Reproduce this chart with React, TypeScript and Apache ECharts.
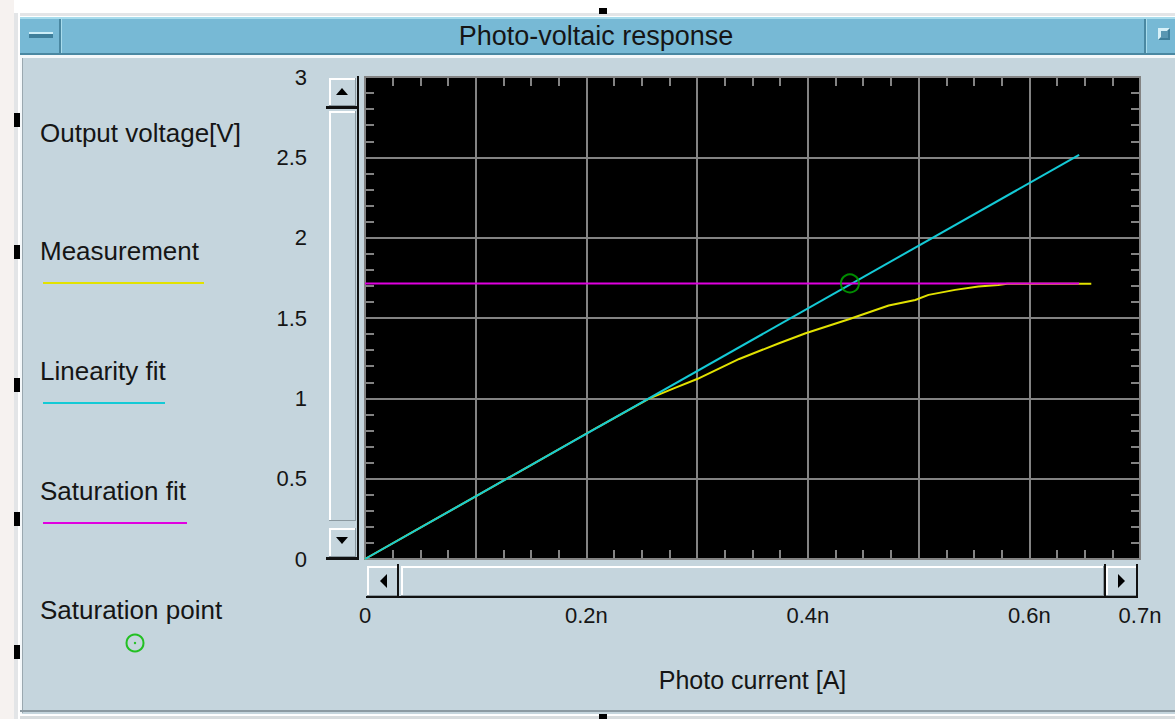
import React, { useEffect, useRef } from 'react';
import * as echarts from 'echarts';

// ---- data (photo current in nA, output voltage in V) ----
const measCurrent = [0, 0.05, 0.1, 0.15, 0.21, 0.257, 0.28, 0.3, 0.338, 0.374, 0.398, 0.437, 0.473, 0.497, 0.509, 0.533, 0.554, 0.572, 0.58, 0.656];
const measVoltage = [0, 0.195, 0.39, 0.585, 0.82, 1.0, 1.065, 1.12, 1.245, 1.343, 1.405, 1.492, 1.578, 1.612, 1.644, 1.675, 1.696, 1.706, 1.713, 1.713];
const linCurrent = [0, 0.645];
const linVoltage = [0, 2.515];
const satCurrent = [0, 0.645];
const satVoltage = [1.715, 1.715];
const satPointCurrent = [0.438];
const satPointVoltage = [1.715];
const xLabelValues = [0, 0.2, 0.4, 0.6, 0.7];
const xLabelTexts = ['0', '0.2n', '0.4n', '0.6n', '0.7n'];
const legendNames = ['Measurement', 'Linearity fit', 'Saturation fit', 'Saturation point'];

const TITLE = 'Photo-voltaic response';
const Y_NAME = 'Output voltage[V]';
const X_NAME = 'Photo current [A]';

const C_MEAS = '#E2E200';
const C_LIN = '#14CAD6';
const C_SAT = '#E000E0';
const C_PT = '#00B000';
const PANEL = '#C5D5DD';
const BAR = '#77B9D5';
const BAR_DARK = '#4A88A2';
const BAR_LIGHT = '#A8DCEC';
const GRIDC = '#838383';
const TXT = '#151515';
const FONT = '"Liberation Sans", Arial, sans-serif';

const zip = (a: number[], b: number[]) => a.map((v, i) => [v, b[i]]);

const R = (x: number, y: number, w: number, h: number, fill: string) => ({
  type: 'rect', silent: true, shape: { x, y, width: w, height: h }, style: { fill },
});
const T = (x: number, y: number, text: string, size: number, align = 'left') => ({
  type: 'text', silent: true, x, y,
  style: { text, fill: TXT, font: `${size}px ${FONT}`, textAlign: align, textVerticalAlign: 'middle', align, verticalAlign: 'middle' },
});
const bevel = (x: number, y: number, w: number, h: number) => [
  R(x, y, w, h, PANEL),
  R(x, y, w, 2, '#FFFFFF'),
  R(x, y, 2, h, '#FFFFFF'),
  R(x, y + h - 1, w, 1, '#8A989F'),
  R(x + w - 1, y, 1, h, '#8A989F'),
];
const tri = (pts: number[][]) => ({ type: 'polygon', silent: true, shape: { points: pts }, style: { fill: '#000' } });

export default function App() {
  const ref = useRef<HTMLDivElement>(null);
  useEffect(() => {
    if (!ref.current) return;
    const chart = echarts.init(ref.current, null, { renderer: 'svg' });

    const elements: any[] = [];
    elements.push(R(0, 0, 1175, 13, '#FFFFFF'));
    elements.push(R(0, 13, 1175, 3, '#E3E5E7'));
    elements.push(R(0, 16, 1175, 1, '#FFFFFF'));
    elements.push(R(0, 0, 14, 719, '#F6F2F0'));
    elements.push(R(14, 13, 4, 706, '#E3E5E7'));
    elements.push(R(18, 13, 2, 706, '#FFFFFF'));
    elements.push(R(20, 17, 1155, 38, BAR));
    elements.push(R(20, 17, 1155, 2, BAR_LIGHT));
    elements.push(R(20, 53, 1155, 2, BAR_DARK));
    elements.push(R(59, 19, 2, 34, BAR_DARK));
    elements.push(R(61, 19, 1, 34, BAR_LIGHT));
    elements.push(R(1144, 19, 2, 34, BAR_DARK));
    elements.push(R(1146, 19, 1, 34, BAR_LIGHT));
    elements.push(R(29, 32, 24, 6, '#3F7F9B'));
    elements.push(R(29, 32, 24, 2, '#CDEEF8'));
    elements.push(R(1158, 28, 12, 12, '#3F7F9B'));
    elements.push({ type: 'polygon', silent: true, shape: { points: [[1158, 28], [1170, 28], [1158, 40]] }, style: { fill: '#D6F0F8' } });
    elements.push(R(1161, 31, 7, 7, '#5A97B2'));
    elements.push(T(596, 36, TITLE, 27, 'center'));
    elements.push(R(20, 55, 1155, 3, '#F4F8FA'));
    elements.push(R(20, 55, 2, 661, '#F4F8FA'));
    elements.push(R(22, 58, 1, 655, '#9AA8AF'));
    elements.push(R(20, 710, 1155, 2, '#8C9AA2'));
    elements.push(R(20, 714, 1155, 2, '#FFFFFF'));
    elements.push(R(20, 716, 1155, 3, '#D8DCDE'));
    [120, 252, 385, 519, 652].forEach((y) => elements.push(R(14, y - 7, 6, 14, '#000')));
    elements.push(R(599, 8, 8, 6, '#000'));
    elements.push(R(599, 714, 8, 5, '#000'));

    elements.push(...bevel(329, 78, 27, 28));
    elements.push(tri([[336, 95], [348, 95], [342, 88]]));
    elements.push(R(326, 106, 32, 3, '#111'));
    elements.push(...bevel(329, 111, 27, 410));
    elements.push(...bevel(329, 528, 27, 29));
    elements.push(tri([[336, 537], [348, 537], [342, 544]]));
    elements.push(R(326, 557, 33, 3, '#111'));
    elements.push(R(357, 76, 2, 484, '#111'));

    elements.push(...bevel(367, 566, 31, 30));
    elements.push(tri([[387, 574], [387, 588], [380, 581]]));
    elements.push(R(397, 564, 2, 33, '#111'));
    elements.push(...bevel(401, 566, 703, 30));
    elements.push(R(1104, 564, 2, 33, '#111'));
    elements.push(...bevel(1106, 566, 31, 30));
    elements.push(tri([[1118, 574], [1118, 588], [1125, 581]]));
    elements.push(R(1136, 564, 2, 34, '#111'));
    elements.push(R(366, 596, 772, 2, '#111'));

    elements.push(T(40, 133, Y_NAME, 26));
    const legendY = [251, 371, 491, 610];
    const legendColors = [C_MEAS, C_LIN, C_SAT];
    const legendLen = [161, 122, 144];
    legendNames.forEach((n, i) => {
      elements.push(T(40, legendY[i], n, 26));
      if (i < 3) {
        elements.push({
          type: 'line', silent: true,
          shape: { x1: 43, y1: legendY[i] + 32, x2: 43 + legendLen[i], y2: legendY[i] + 32 },
          style: { stroke: legendColors[i], lineWidth: 2 },
        });
      }
    });
    elements.push({ type: 'circle', silent: true, shape: { cx: 135, cy: 643, r: 8.5 }, style: { fill: 'none', stroke: '#22C022', lineWidth: 2 } });
    elements.push({ type: 'circle', silent: true, shape: { cx: 135, cy: 643, r: 1.2 }, style: { fill: '#22C022' } });

    const ts = { color: GRIDC, width: 2 };
    const xFmt = (v: number) => {
      const r = Math.round(v * 10) / 10;
      const i = xLabelValues.findIndex((t) => Math.abs(t - r) < 1e-6);
      return i >= 0 ? xLabelTexts[i] : '';
    };
    const frameAxis = (split: number, extra: any) => ({
      type: 'value',
      axisLine: { show: true, onZero: false, lineStyle: ts },
      axisTick: { show: false, inside: true },
      minorTick: { show: true, splitNumber: split, length: 9, lineStyle: ts },
      ...extra,
    });

    chart.setOption({
      animation: false,
      backgroundColor: PANEL,
      textStyle: { fontFamily: FONT },
      graphic: { elements },
      grid: {
        left: 365, top: 77, width: 775, height: 482,
        show: true, backgroundColor: '#000000', borderColor: GRIDC, borderWidth: 2,
      },
      xAxis: [
        frameAxis(4, {
          position: 'bottom', min: 0, max: 0.7, interval: 0.1,
          splitLine: { show: true, lineStyle: { color: GRIDC, width: 2 } },
          axisLabel: { margin: 45, formatter: xFmt, fontSize: 22, color: TXT, fontFamily: FONT, showMinLabel: true, showMaxLabel: true },
          name: X_NAME, nameLocation: 'middle', nameGap: 108,
          nameTextStyle: { fontSize: 25, color: TXT, fontFamily: FONT },
        }),
        frameAxis(4, {
          position: 'top', min: 0, max: 0.7, interval: 0.1,
          splitLine: { show: false },
          axisLabel: { show: false },
        }),
      ],
      yAxis: [
        frameAxis(5, {
          position: 'left', min: 0, max: 3, interval: 0.5,
          splitLine: { show: true, lineStyle: { color: GRIDC, width: 2 } },
          axisLabel: { margin: 58, fontSize: 22, color: TXT, fontFamily: FONT, formatter: (v: number) => String(v) },
        }),
        frameAxis(5, {
          position: 'right', min: 0, max: 3, interval: 0.5,
          splitLine: { show: false },
          axisLabel: { show: false },
        }),
      ],
      series: [
        {
          name: legendNames[0], type: 'line', data: zip(measCurrent, measVoltage), showSymbol: false,
          lineStyle: { color: C_MEAS, width: 2 }, itemStyle: { color: C_MEAS }, z: 2,
        },
        {
          name: legendNames[1], type: 'line', data: zip(linCurrent, linVoltage), showSymbol: false,
          lineStyle: { color: C_LIN, width: 2 }, itemStyle: { color: C_LIN }, z: 3,
        },
        {
          name: legendNames[2], type: 'line', data: zip(satCurrent, satVoltage), showSymbol: false,
          lineStyle: { color: C_SAT, width: 2 }, itemStyle: { color: C_SAT }, z: 4,
        },
        {
          name: legendNames[3], type: 'scatter', data: zip(satPointCurrent, satPointVoltage),
          symbol: 'circle', symbolSize: 18,
          itemStyle: { color: 'rgba(0,0,0,0)', borderColor: C_PT, borderWidth: 2 }, z: 5,
        },
      ],
    });
    return () => chart.dispose();
  }, []);

  return <div ref={ref} style={{ position: 'fixed', left: 0, top: 0, width: 1175, height: 719 }} />;
}
